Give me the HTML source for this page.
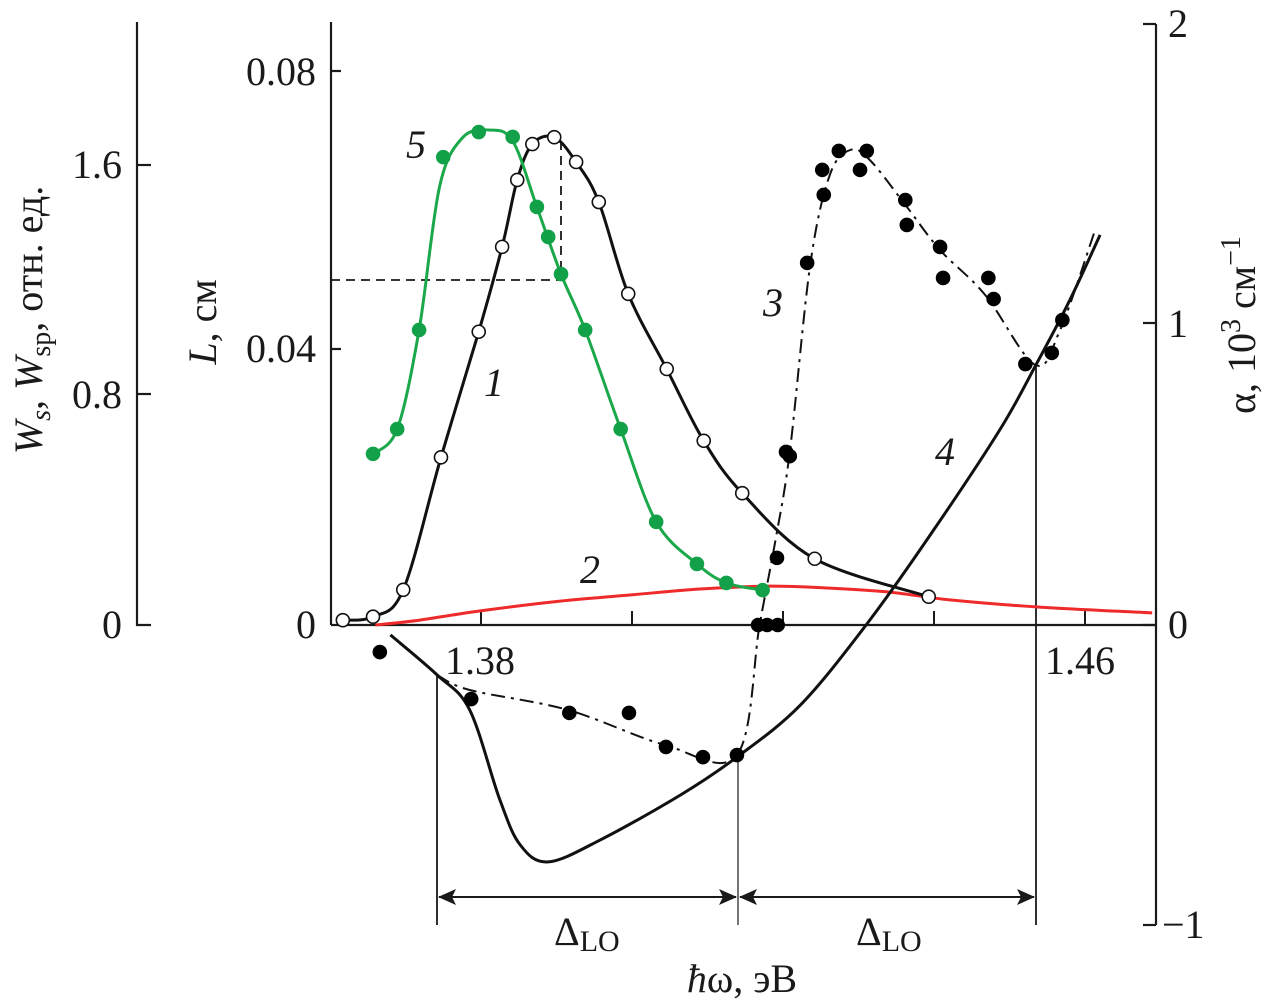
<!DOCTYPE html>
<html><head><meta charset="utf-8">
<style>
html,body{margin:0;padding:0;background:#fff;}
svg{display:block;}
text{font-family:"Liberation Serif",serif;fill:#1a1a1a;}
</style></head>
<body>
<svg id="chart" width="1264" height="1007" viewBox="0 0 1264 1007" xmlns="http://www.w3.org/2000/svg">
<g id="axes" stroke="#1a1a1a" stroke-width="2.2" fill="none">
  <path d="M137,22 V625 H151"/>
  <path d="M137,394 H151"/>
  <path d="M137,165 H151"/>
  <path d="M331,22 V625"/>
  <path d="M331,71 H341"/>
  <path d="M331,349 H341"/>
  <path d="M331,625 H1156"/>
  <path d="M1156,24 V925"/>
  <path d="M1143,24 H1156"/>
  <path d="M1143,323 H1156"/>
  <path d="M1143,625 H1156"/>
  <path d="M1143,925 H1156"/>
</g>
<g id="xticks"></g>
<g font-size="40">
  <text x="122" y="638" text-anchor="end">0</text>
  <text x="122" y="408" text-anchor="end">0.8</text>
  <text x="122" y="178" text-anchor="end">1.6</text>
  <text x="316" y="638" text-anchor="end">0</text>
  <text x="316" y="362" text-anchor="end">0.04</text>
  <text x="316" y="85" text-anchor="end">0.08</text>
  <text x="1168" y="37">2</text>
  <text x="1168" y="337">1</text>
  <text x="1168" y="638">0</text>
  <text x="1162" y="938">−1</text>
  <text x="480" y="674" text-anchor="middle">1.38</text>
  <text x="1080" y="674" text-anchor="middle">1.46</text>
  <text x="742" y="992" text-anchor="middle"><tspan font-style="italic">ħ</tspan>ω, эВ</text>
  <text transform="translate(42,320) rotate(-90)" text-anchor="middle"><tspan font-style="italic">W</tspan><tspan font-size="28" dy="8" font-style="italic">s</tspan><tspan dy="-8">, </tspan><tspan font-style="italic">W</tspan><tspan font-size="28" dy="8">sp</tspan><tspan dy="-8">, отн. ед.</tspan></text>
  <text transform="translate(216,322) rotate(-90)" text-anchor="middle"><tspan font-style="italic">L</tspan>, см</text>
  <text transform="translate(1255,325) rotate(-90)" text-anchor="middle">α, 10<tspan font-size="28" dy="-15">3</tspan><tspan dy="15"> см</tspan><tspan font-size="28" dy="-15">−1</tspan></text>
  <text x="554" y="945">Δ<tspan font-size="30" dy="6">LO</tspan></text>
  <text x="856" y="945">Δ<tspan font-size="30" dy="6">LO</tspan></text>
  <g font-style="italic">
    <text x="406" y="158">5</text>
    <text x="484" y="396">1</text>
    <text x="580" y="583">2</text>
    <text x="763" y="316">3</text>
    <text x="935" y="465">4</text>
  </g>
</g>
<g fill="none" stroke="#1a1a1a">
  <path d="M331,280 H561 V140" stroke-dasharray="9,6" stroke-width="1.8"/>
  <path d="M437,675 V925" stroke-width="1.8"/>
  <path d="M738,755 V925" stroke-width="1.2"/>
  <path d="M1036,365 V925" stroke-width="1.8"/>
  <path d="M439,897 H736" stroke-width="2"/>
  <path d="M740,897 H1034" stroke-width="2"/>
</g>
<g fill="#1a1a1a">
  <path d="M438,897 l18,-8 l-4,8 l4,8z"/>
  <path d="M737,897 l-18,-8 l4,8 l-4,8z"/>
  <path d="M739,897 l18,-8 l-4,8 l4,8z"/>
  <path d="M1035,897 l-18,-8 l4,8 l-4,8z"/>
</g>
<g id="plot"></g>
</svg>
<script>
// x axis ticks (eV)
const xTicks = [1.38, 1.40, 1.42, 1.44, 1.46];
// curve 1: L (cm), open circles
const c1E = [1.3617,1.3657,1.3697,1.3747,1.3797,1.3828,1.3848,1.3868,1.3897,1.3926,1.3956,1.3995,1.4046,1.4095,1.4146,1.4242,1.4393];
const c1L = [0.0007,0.0012,0.0051,0.0243,0.0425,0.0548,0.0645,0.0697,0.0707,0.0671,0.0613,0.0480,0.0371,0.0267,0.0191,0.0096,0.0041];
// curve 5: Ws (green) measured points
const c5E = [1.3657,1.3689,1.3718,1.3750,1.3797,1.3842,1.3874,1.3889,1.3906,1.3938,1.3985,1.4032,1.4086,1.4125,1.4173];
const c5W = [0.594,0.680,1.024,1.624,1.711,1.694,1.451,1.347,1.218,1.024,0.680,0.358,0.212,0.146,0.121];
// curve 5: fitted line
const c5lineE = [1.3657,1.3689,1.3718,1.3745,1.3775,1.3810,1.3842,1.3874,1.3906,1.3938,1.3985,1.4032,1.4086,1.4125,1.4173];
const c5lineW = [0.594,0.680,1.024,1.520,1.690,1.718,1.680,1.451,1.218,1.024,0.680,0.358,0.212,0.146,0.121];
// curve 2: Wsp (red)
const c2E = [1.366,1.3719,1.3799,1.3905,1.3997,1.409,1.4183,1.4262,1.4342,1.4421,1.454,1.4689];
const c2W = [0,0.017,0.049,0.083,0.104,0.125,0.135,0.128,0.114,0.087,0.062,0.042];
// curve 3: alpha measured points
const c3E = [1.3666,1.3787,1.3917,1.3996,1.4045,1.4094,1.4139,1.4167,1.4179,1.4193,1.4192,1.4204,1.4209,1.4232,1.4254,1.4252,1.4274,1.4302,1.4311,1.4362,1.4364,1.4408,1.4412,1.4472,1.4479,1.4521,1.4556,1.4570];
const c3A = [-0.090,-0.246,-0.292,-0.292,-0.405,-0.439,-0.432,0,0,0,0.223,0.575,0.561,1.203,1.429,1.512,1.575,1.512,1.575,1.412,1.329,1.256,1.153,1.153,1.083,0.867,0.904,1.013];
// curve 3: dash-dot guide
const c3lineE = [1.3742,1.3785,1.3915,1.4044,1.4139,1.4169,1.419,1.4209,1.4236,1.4262,1.4289,1.4315,1.4362,1.4408,1.4468,1.4534,1.4567,1.4613];
const c3lineA = [-0.166,-0.216,-0.282,-0.399,-0.432,0,0.282,0.575,1.196,1.495,1.578,1.545,1.396,1.246,1.096,0.864,0.980,1.309];
// curve 4: alpha theory
const c4E = [1.368,1.3742,1.3785,1.3825,1.3852,1.3889,1.3958,1.4064,1.4139,1.4223,1.431,1.4395,1.4487,1.4535,1.458,1.462];
const c4A = [-0.033,-0.166,-0.282,-0.581,-0.731,-0.787,-0.714,-0.565,-0.439,-0.266,0,0.299,0.648,0.864,1.080,1.296];

const NS = 'http://www.w3.org/2000/svg';
const X = e => 481 + (e - 1.38) * 7550;
const YL = v => 625 - v * 6900;
const YW = v => 625 - v * 288.1;
const YA = v => 625 - v * 301;
const plot = document.getElementById('plot');

function spline(pts){
  let d = 'M' + pts[0][0].toFixed(1) + ',' + pts[0][1].toFixed(1);
  for (let i = 0; i < pts.length - 1; i++){
    const p0 = pts[Math.max(0,i-1)], p1 = pts[i], p2 = pts[i+1], p3 = pts[Math.min(pts.length-1,i+2)];
    const c1x = p1[0] + (p2[0]-p0[0])/6, c1y = p1[1] + (p2[1]-p0[1])/6;
    const c2x = p2[0] - (p3[0]-p1[0])/6, c2y = p2[1] - (p3[1]-p1[1])/6;
    d += ' C' + c1x.toFixed(1)+','+c1y.toFixed(1)+' '+c2x.toFixed(1)+','+c2y.toFixed(1)+' '+p2[0].toFixed(1)+','+p2[1].toFixed(1);
  }
  return d;
}
function addPath(name, d, stroke, width, dash){
  const p = document.createElementNS(NS,'path');
  p.setAttribute('d', d);
  p.setAttribute('fill','none');
  p.setAttribute('stroke', stroke);
  p.setAttribute('stroke-width', width);
  if (dash) p.setAttribute('stroke-dasharray', dash);
  
  
  plot.appendChild(p);
}
function addDot(name, x, y, fill, stroke){
  const c = document.createElementNS(NS,'circle');
  c.setAttribute('cx', x); c.setAttribute('cy', y); c.setAttribute('r', 6.5);
  c.setAttribute('fill', fill);
  c.setAttribute('stroke', stroke); c.setAttribute('stroke-width', 1.6);
  
  
  plot.appendChild(c);
}

const xt = document.getElementById('xticks');
xTicks.forEach(t => {
  const l = document.createElementNS(NS,'line');
  l.setAttribute('x1', X(t)); l.setAttribute('x2', X(t));
  l.setAttribute('y1', 625); l.setAttribute('y2', 611);
  l.setAttribute('stroke','#1a1a1a'); l.setAttribute('stroke-width', 2);
  
  
  xt.appendChild(l);
});

addPath('curve-2-wsp-line', spline(c2E.map((e,i)=>[X(e),YW(c2W[i])])), '#ee2a2a', 3);
addPath('curve-4-alpha-theory-line', spline(c4E.map((e,i)=>[X(e),YA(c4A[i])])), '#111', 3);
addPath('curve-3-alpha-guide-line', spline(c3lineE.map((e,i)=>[X(e),YA(c3lineA[i])])), '#111', 2, '14,6,3,6');
addPath('curve-1-l-line', spline(c1E.map((e,i)=>[X(e),YL(c1L[i])])), '#111', 3);
addPath('curve-5-ws-line', spline(c5lineE.map((e,i)=>[X(e),YW(c5lineW[i])])), '#1aa84a', 3);

c1E.forEach((e,i) => addDot('curve-1-point', X(e), YL(c1L[i]), '#fff', '#111'));
c5E.forEach((e,i) => addDot('curve-5-point', X(e), YW(c5W[i]), '#12a148', '#12a148'));
c3E.forEach((e,i) => addDot('curve-3-point', X(e), YA(c3A[i]), '#000', '#000'));
</script>
</body></html>
